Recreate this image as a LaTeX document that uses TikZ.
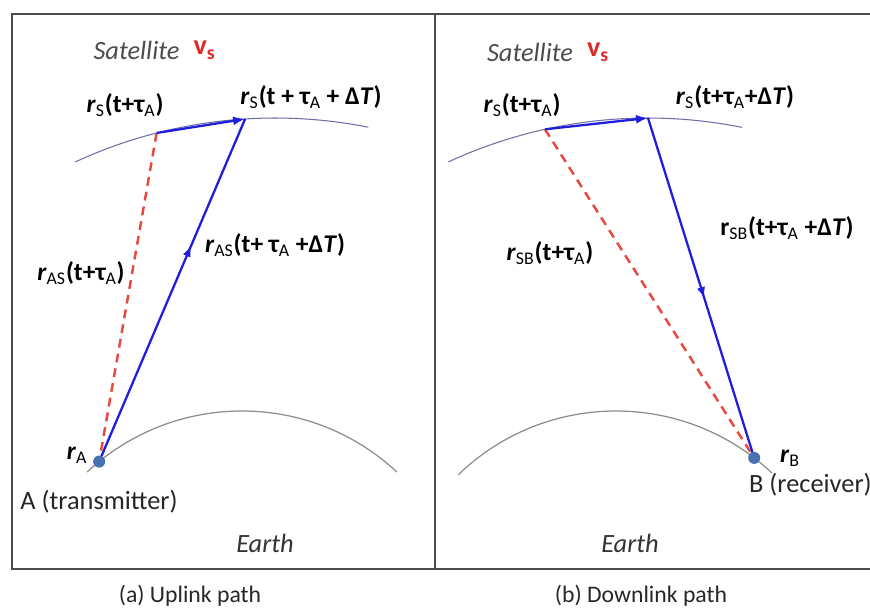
\documentclass[tikz,border=0pt]{standalone}
\usepackage{fontspec}
\setmainfont{Carlito}
\usepackage{tikz}
\usetikzlibrary{arrows.meta,calc,positioning,decorations.markings}
\definecolor{linkblue}{RGB}{30,30,220}
\definecolor{pathred}{RGB}{232,72,62}
\definecolor{orbitgray}{RGB}{110,110,170}
\definecolor{earthgray}{RGB}{140,140,140}
\definecolor{dotblue}{RGB}{70,115,175}
\definecolor{vred}{RGB}{225,40,40}
\newcommand{\rvec}[1]{\textit{r}\textsubscript{\mdseries #1}}
\newcommand{\tauA}{τ\textsubscript{\mdseries A}}

\begin{document}
\begin{tikzpicture}[
  lbl/.style={font=\fontsize{14.5}{17}\selectfont\bfseries, inner sep=1pt},
  plain/.style={font=\fontsize{15}{17}\selectfont, text=black!85, inner sep=1pt},
  caption/.style={font=\fontsize{13.5}{16}\selectfont, text=black!85, inner sep=1pt},
  ital/.style={font=\fontsize{15}{17}\selectfont\itshape, text=black!70, inner sep=1pt},
  dot/.style={circle, fill=dotblue, inner sep=0pt, minimum size=0.24cm},
  orbit/.style={orbitgray, line width=0.6pt},
  earth/.style={earthgray, line width=0.7pt},
  link/.style={linkblue, line width=1.3pt},
  delayed/.style={pathred, line width=1.4pt, dash pattern=on 5pt off 3.5pt},
  tip/.style={-{Latex[length=2.4mm,width=1.8mm]}},
  midarrow/.style={postaction={decorate}, decoration={markings, mark=at position #1 with {\arrow{Latex[length=2.2mm,width=1.7mm]}}}}
]
\useasboundingbox (0,0) rectangle (17.4,12.16);
% frame
\draw[black!70, line width=0.9pt] (17.4,11.88) -- (0.24,11.88) -- (0.24,0.78) -- (17.4,0.78);
\draw[black!70, line width=0.9pt] (8.7,11.88) -- (8.7,0.78);

% (a) uplink
\coordinate (orbA) at (5.5,0.28);
\coordinate (ctrA) at (4.84,-0.6);
\draw[orbit] ($(orbA)+(114.8:9.52)$) arc[start angle=114.8, end angle=78.7, radius=9.52];
\draw[earth] ($(ctrA)+(133:4.54)$) arc[start angle=133, end angle=47, radius=4.54];
\coordinate (sA1) at ($(orbA)+(104.4:9.52)$);
\coordinate (sA2) at ($(orbA)+(93.6:9.52)$);
\coordinate (posA) at ($(ctrA)+(129:4.54)$);
\draw[delayed] (sA1) -- (posA);
\draw[link, tip] (sA1) -- (sA2);
\draw[link, midarrow=0.63] (posA) -- (sA2);
\node[dot] (A) at (posA) {};

\node[ital] (satA) at (2.73,11.16) {Satellite};
\node[lbl, text=vred, right=0.2cm of satA] (vA) {\fontsize{16}{18}\selectfont v\textsubscript{s}};
\node[lbl] (lS1) at (2.5,10.06) {\rvec{S}(t+\tauA)};
\node[lbl] (lS2) at (6.22,10.22) {\rvec{S}(t + \tauA{} + Δ\textit{T})};
\node[lbl] (lAS2) at (5.5,7.26) {\rvec{AS}(t+ \tauA{} +Δ\textit{T})};
\node[lbl] (lAS1) at (1.62,6.7) {\rvec{AS}(t+\tauA)};
\node[lbl] (lA) at (1.54,3.06) {\rvec{A}};
\node[plain] (txA) at (1.98,2.12) {A (transmitter)};
\node[ital, text=black!80] (earthA) at (5.3,1.3) {Earth};
\node[caption] (capA) at (3.8,0.24) {(a) Uplink path};

% (b) downlink
\coordinate (orbB) at (12.96,0.28);
\coordinate (ctrB) at (12.32,-0.6);
\draw[orbit] ($(orbB)+(114.8:9.52)$) arc[start angle=114.8, end angle=78.6, radius=9.52];
\draw[earth] ($(ctrB)+(134:4.54)$) arc[start angle=134, end angle=46.6, radius=4.54];
\coordinate (sB1) at ($(orbB)+(102.5:9.52)$);
\coordinate (sB2) at ($(orbB)+(90:9.52)$);
\coordinate (posB) at ($(ctrB)+(52.5:4.54)$);
\draw[delayed] (sB1) -- (posB);
\draw[link, tip] (sB1) -- (sB2);
\draw[link, midarrow=0.53] (sB2) -- (posB);
\node[dot] (B) at (posB) {};

\node[ital] (satB) at (10.6,11.12) {Satellite};
\node[lbl, text=vred, right=0.2cm of satB] (vB) {\fontsize{16}{18}\selectfont v\textsubscript{s}};
\node[lbl] (lS1b) at (10.44,10.06) {\rvec{S}(t+\tauA)};
\node[lbl] (lS2b) at (14.7,10.22) {\rvec{S}(t+\tauA+Δ\textit{T})};
\node[lbl] (lSB2) at (15.74,7.6) {r\textsubscript{\mdseries SB}(t+\tauA{} +Δ\textit{T})};
\node[lbl] (lSB1) at (11.0,7.1) {\rvec{SB}(t+\tauA)};
\node[lbl] (lB) at (15.8,3.0) {\rvec{B}};
\node[plain, anchor=west] (txB) at (14.94,2.46) {B (receiver)};
\node[ital, text=black!80] (earthB) at (12.6,1.3) {Earth};
\node[caption] (capB) at (12.82,0.24) {(b) Downlink path};
\end{tikzpicture}
\end{document}
